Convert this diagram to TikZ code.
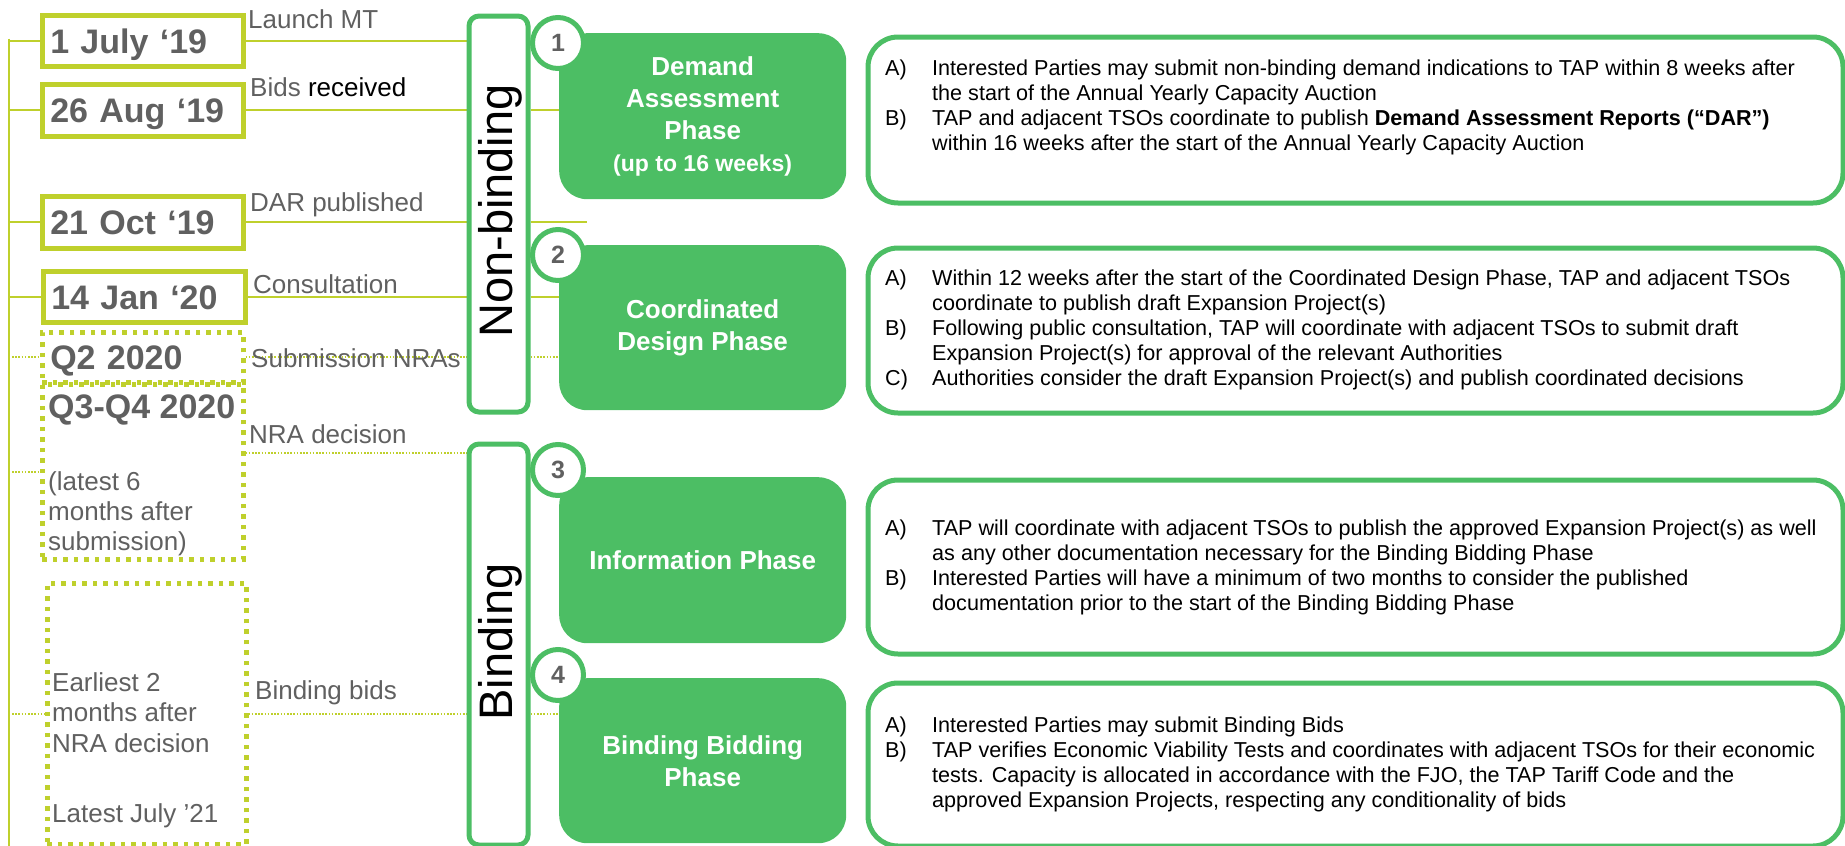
\documentclass[tikz,border=0pt]{standalone}
\usepackage{fontspec}
\setmainfont{Liberation Sans}
\usepackage{array}
\definecolor{lime}{RGB}{191,208,44}
\definecolor{tapgreen}{RGB}{76,190,100}
\definecolor{txtgrey}{RGB}{96,96,96}
\pgfdeclarelayer{background}
\pgfsetlayers{background,main}
\begin{document}
\begin{tikzpicture}[x=1pt,y=-1pt,
  datebox/.style={draw=lime, line width=4.5pt, fill=white, rectangle, anchor=north west,
    inner xsep=8pt, inner ysep=0pt, text=txtgrey, font=\fontsize{34}{40}\selectfont\bfseries,
    align=left, text width=185pt, text height=25pt, text depth=0pt, minimum width=201pt},
  dotbox/.style={datebox, dash pattern=on 4.5pt off 6pt},
  lbl/.style={inner sep=0pt, anchor=base west, text=txtgrey, font=\fontsize{26}{30}\selectfont},
  bold/.style={lbl, font=\fontsize{34}{40}\selectfont\bfseries},
  bar/.style={draw=tapgreen, line width=5pt, fill=white, rounded corners=10pt, anchor=north west,
    minimum width=59pt, inner sep=0pt},
  bartext/.style={rotate=90, anchor=base, inner sep=0pt, font=\fontsize{47}{50}\selectfont, text=black},
  phase/.style={fill=tapgreen, rounded corners=28pt, anchor=north west, minimum width=287pt,
    inner sep=0pt, text=white, align=center, font=\fontsize{26}{32}\selectfont\bfseries},
  numcirc/.style={circle, draw=tapgreen, line width=5pt, fill=white, minimum size=51pt,
    inner sep=0pt, text=txtgrey, font=\fontsize{25}{25}\selectfont\bfseries},
  infobox/.style={draw=tapgreen, line width=5pt, fill=white, rounded corners=30pt,
    anchor=north west, minimum width=975pt, inner sep=0pt},
  infotext/.style={inner sep=0pt, anchor=base west, text=black, font=\fontsize{21.6}{25}\selectfont},
  tl/.style={draw=lime, line width=2pt},
  dl/.style={draw=lime, line width=1.6pt, dash pattern=on 1.6pt off 1.6pt}
]
\useasboundingbox (0,0) rectangle (1845,846);

% date boxes
\node[datebox, minimum height=51pt] (d1) at (40,13) {1 July ‘19};
\node[datebox, minimum height=52pt] (d2) at (40,82) {26 Aug ‘19};
\node[datebox, minimum height=52pt] (d3) at (40,194) {21 Oct ‘19};
\node[datebox, minimum height=51pt, minimum width=202pt, text width=186pt] (d4) at (41,269) {14 Jan ‘20};
\node[dotbox, minimum height=50pt] (q2) at (40,330) {Q2 2020};
\node[dotbox, minimum height=175pt, fill=none] (q3) at (40,382) {};
\node[dotbox, minimum height=261pt, minimum width=199pt, text width=183pt] (bb) at (45,581) {};

% texts inside the tall boxes
\node[bold] (q3a) at (48,418) {Q3-Q4 2020};
\node[lbl] (q3b) at (48,490) {\begin{tabular}[t]{@{}l@{}}(latest 6\\months after\\submission)\end{tabular}};
\node[lbl, font=\fontsize{26}{30.5}\selectfont] (bba) at (52,691) {\begin{tabular}[t]{@{}l@{}}Earliest 2\\months after\\NRA decision\end{tabular}};
\node[lbl] (bbb) at (52,822) {Latest July ’21};

% milestone labels
\node[lbl] (m1) at (248,28) {Launch MT};
\node[lbl] (m2) at (250,96) {Bids \textcolor{black}{received}};
\node[lbl] (m3) at (250,211) {DAR published};
\node[lbl] (m4) at (253,293) {Consultation};
\node[lbl] (m5) at (251,367) {Submission NRAs};
\node[lbl] (m6) at (249,443) {NRA decision};
\node[lbl] (m7) at (255,699) {Binding bids};

% vertical bars
\node[bar, minimum height=396pt] (nb) at (466.5,13.5) {};
\node[bar, minimum height=401pt] (bd) at (466.5,441.5) {};
\node[bartext] (nbt) at (512,211) {Non-binding};
\node[bartext] (bdt) at (512,642) {Binding};

% phase boxes
\node[phase, minimum height=166pt] (p1) at (559,33) {Demand\\Assessment\\Phase\\{\fontsize{23}{28}\selectfont(up to 16 weeks)}};
\node[phase, minimum height=165pt] (p2) at (559,245) {Coordinated\\Design Phase};
\node[phase, minimum height=166pt] (p3) at (559,477) {Information Phase};
\node[phase, minimum height=165pt] (p4) at (559,678) {Binding Bidding\\Phase};

\node[numcirc] (c1) at (558,43) {1};
\node[numcirc] (c2) at (558,255) {2};
\node[numcirc] (c3) at (558,470) {3};
\node[numcirc] (c4) at (558,675) {4};

% info boxes
\node[infobox, minimum height=166pt] (i1) at (865.5,34.5) {};
\node[infobox, minimum height=165pt] (i2) at (865.5,245.5) {};
\node[infobox, minimum height=174pt] (i3) at (865.5,477.5) {};
\node[infobox, minimum height=163pt] (i4) at (865.5,680.5) {};

\node[infotext] (t1) at (885,75) {\begin{tabular}[t]{@{}p{47pt}@{}l@{}}
A) & Interested Parties may submit non-binding demand indications to TAP within 8 weeks after\\
 & the start of the Annual Yearly Capacity Auction\\
B) & TAP and adjacent TSOs coordinate to publish \textbf{Demand Assessment Reports (“DAR”)}\\
 & within 16 weeks after the start of the Annual Yearly Capacity Auction
\end{tabular}};
\node[infotext] (t2) at (885,285) {\begin{tabular}[t]{@{}p{47pt}@{}l@{}}
A) & Within 12 weeks after the start of the Coordinated Design Phase, TAP and adjacent TSOs\\
 & coordinate to publish draft Expansion Project(s)\\
B) & Following public consultation, TAP will coordinate with adjacent TSOs to submit draft\\
 & Expansion Project(s) for approval of the relevant Authorities\\
C) & Authorities consider the draft Expansion Project(s) and publish coordinated decisions
\end{tabular}};
\node[infotext] (t3) at (885,535) {\begin{tabular}[t]{@{}p{47pt}@{}l@{}}
A) & TAP will coordinate with adjacent TSOs to publish the approved Expansion Project(s) as well\\
 & as any other documentation necessary for the Binding Bidding Phase\\
B) & Interested Parties will have a minimum of two months to consider the published\\
 & documentation prior to the start of the Binding Bidding Phase
\end{tabular}};
\node[infotext] (t4) at (885,732) {\begin{tabular}[t]{@{}p{47pt}@{}l@{}}
A) & Interested Parties may submit Binding Bids\\
B) & TAP verifies Economic Viability Tests and coordinates with adjacent TSOs for their economic\\
 & tests. Capacity is allocated in accordance with the FJO, the TAP Tariff Code and the\\
 & approved Expansion Projects, respecting any conditionality of bids
\end{tabular}};

% connectors
\coordinate (vtop) at (9,38.5);
\coordinate (vbot) at (9,846);
\coordinate (dstart) at (12,0);
\coordinate (darend) at (587,0);
\coordinate (nra) at (0,453);
\begin{pgfonlayer}{background}
\draw[tl] (vtop) -- (vbot);
\draw[tl] (d1.west -| vtop) -- (d1.west);
\draw[tl] (d1.east) -- (d1.east -| nb.west);
\draw[tl] (d2.west -| vtop) -- (d2.west);
\draw[tl] (d2.east) -- (d2.east -| nb.west);
\draw[tl] (d2.east -| nb.east) -- (d2.east -| p1.west);
\draw[tl] (d3.west -| vtop) -- (d3.west);
\draw[tl] (d3.east) -- (d3.east -| nb.west);
\draw[tl] (d3.east -| nb.east) -- (d3.east -| darend);
\draw[tl] (d4.west -| vtop) -- (d4.west);
\draw[tl] (d4.east) -- (d4.east -| nb.west);
\draw[tl] (d4.east -| nb.east) -- (d4.east -| p2.west);
\draw[dl] (q2.west -| dstart) -- (q2.west);
\draw[dl] (q2.east) -- (q2.east -| nb.west);
\draw[dl] (q2.east -| nb.east) -- (q2.east -| p2.west);
\draw[dl] (q3.west -| dstart) -- (q3.west);
\draw[dl] (q3.east |- nra) -- (bd.west |- nra);
\draw[dl] (bb.west -| dstart) -- (bb.west);
\draw[dl] (bb.east) -- (bb.east -| bd.west);
\draw[dl] (bb.east -| bd.east) -- (bb.east -| p4.west);
\end{pgfonlayer}
\end{tikzpicture}
\end{document}
